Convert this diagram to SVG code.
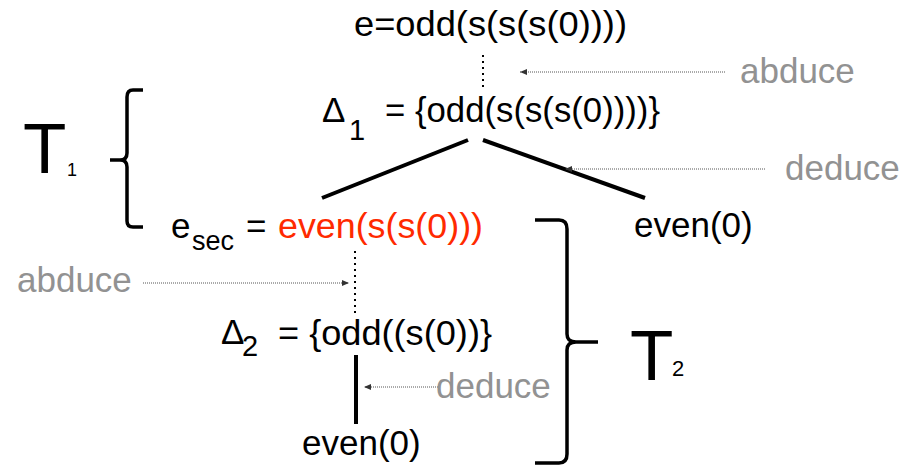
<svg xmlns="http://www.w3.org/2000/svg" width="912" height="469" viewBox="0 0 912 469">
<defs>
<marker id="ah" markerUnits="userSpaceOnUse" markerWidth="8" markerHeight="8" viewBox="0 0 8 8" refX="7" refY="4" orient="auto">
<path d="M0,1 L7,4 L0,7 Z" fill="#333"/>
</marker>
</defs>
<style>
text{font-family:"Liberation Sans",Arial,sans-serif;fill:#000}
.t{font-size:35px}
.g{font-size:35px;fill:#929292}
.r{fill:#ff2a00}
.big{font-size:71px}
.solid{stroke:#000;stroke-width:4;fill:none;stroke-linecap:butt}
.dots{stroke:#000;stroke-width:2;stroke-dasharray:2 4;fill:none}
.ptr{stroke:#555;stroke-width:1;stroke-dasharray:1 1;fill:none;marker-end:url(#ah)}
.brace{stroke:#000;stroke-width:3.5;fill:none;stroke-linejoin:round}
</style>
<g id="connectors">
<line class="dots" x1="483" y1="55" x2="483" y2="90"/>
<line class="solid" x1="468" y1="140" x2="322" y2="198"/>
<line class="solid" x1="483" y1="140" x2="645" y2="198"/>
<line class="dots" x1="355" y1="251" x2="355" y2="313"/>
<line class="solid" x1="356" y1="355" x2="356" y2="424"/>
<line class="ptr" x1="725" y1="72" x2="520" y2="72"/>
<line class="ptr" x1="765" y1="169" x2="565" y2="169"/>
<line class="ptr" x1="143" y1="283" x2="349" y2="283"/>
<line class="ptr" x1="438" y1="387" x2="364" y2="387"/>
</g>
<g id="node-e">
<text class="t" x="354" y="36" textLength="273" lengthAdjust="spacingAndGlyphs">e=odd(s(s(s(0))))</text>
</g>
<g id="node-delta1">
<text class="t" x="322" y="122">Δ</text>
<text style="font-size:29px" x="349" y="140">1</text>
<text class="t" x="385" y="122" textLength="275" lengthAdjust="spacingAndGlyphs">= {odd(s(s(s(0))))}</text>
</g>
<g id="node-esec">
<text class="t" x="171" y="238">e</text>
<text style="font-size:27px" x="192" y="250">sec</text>
<text class="t" x="246" y="238">=</text>
<text class="t r" x="278" y="238" textLength="205" lengthAdjust="spacingAndGlyphs">even(s(s(0)))</text>
</g>
<g id="node-even0-right">
<text class="t" x="634" y="237">even(0)</text>
</g>
<g id="node-delta2">
<text class="t" x="221" y="344">Δ</text>
<text style="font-size:29px" x="242" y="356">2</text>
<text class="t" x="278" y="345" textLength="214" lengthAdjust="spacingAndGlyphs">= {odd((s(0))}</text>
</g>
<g id="node-even0-bottom">
<text class="t" x="302" y="455">even(0)</text>
</g>
<g id="labels">
<text class="g" x="740" y="83">abduce</text>
<text class="g" x="785" y="180">deduce</text>
<text class="g" x="17" y="292">abduce</text>
<text class="g" x="436" y="398">deduce</text>
</g>
<g id="T1">
<path class="brace" d="M143,90 L133,90 Q127,90 127,97 L127,153 Q127,160 120,160 L110,160 M120,160 Q127,160 127,167 L127,221 Q127,227 133,227 L143,227"/>
<text class="big" x="23" y="173">T</text>
<text style="font-size:18px" x="67" y="176">1</text>
</g>
<g id="T2">
<path class="brace" d="M535,220 L559,220 Q567,220 567,229 L567,334 Q567,342 576,342 L598,342 M576,342 Q567,342 567,350 L567,454 Q567,463 559,463 L535,463"/>
<text class="big" x="630" y="380">T</text>
<text style="font-size:22px" x="672" y="376">2</text>
</g>
</svg>
